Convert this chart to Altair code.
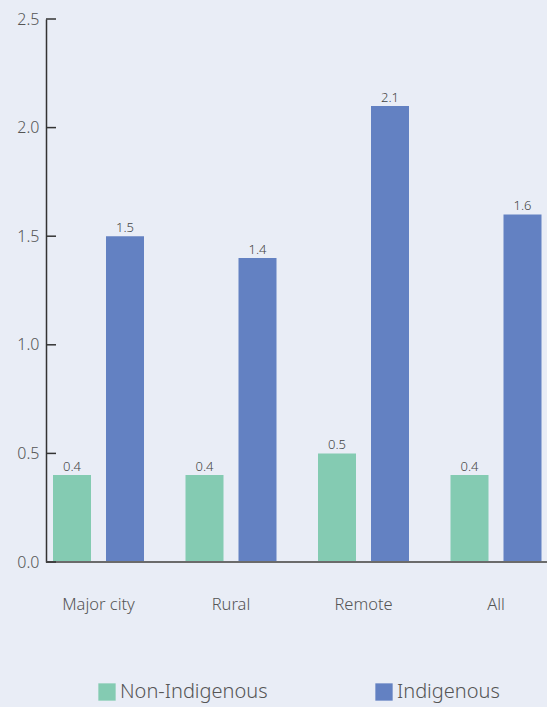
import altair as alt
import pandas as pd

# Rates by area, Non-Indigenous vs Indigenous
regions = ["Major city", "Rural", "Remote", "All"]
groups = ["Non-Indigenous", "Indigenous"]
non_indigenous = [0.4, 0.4, 0.5, 0.4]
indigenous = [1.5, 1.4, 2.1, 1.6]
y_ticks = [0.0, 0.5, 1.0, 1.5, 2.0, 2.5]
colors = ["#84cbb2", "#6381c2"]

rows = []
for r, a, b in zip(regions, non_indigenous, indigenous):
    rows.append({"region": r, "group": groups[0], "value": a})
    rows.append({"region": r, "group": groups[1], "value": b})
df = pd.DataFrame(rows)
ticks_df = pd.DataFrame({"tick": y_ticks})

FONT = "Noto Sans"
WEIGHT = 300
W, H = 501, 543

x_scale = alt.Scale(domain=regions, range=[-13.75, 516.25], paddingInner=0, paddingOuter=0)
off_scale = alt.Scale(domain=groups, paddingInner=0.283, paddingOuter=0.3915)
y_scale = alt.Scale(domain=[0, 2.5], nice=False, zero=True)

x_enc = alt.X(
    "region:N", scale=x_scale, sort=regions, title=None,
    axis=alt.Axis(domain=False, ticks=False, labelAngle=0, labelPadding=34,
                  labelFontSize=16.5, labelColor="#555555", labelFont=FONT,
                  labelFontWeight=WEIGHT),
)
off_enc = alt.XOffset("group:N", scale=off_scale, sort=groups)

bars = alt.Chart(df).mark_bar().encode(
    x=x_enc,
    xOffset=off_enc,
    y=alt.Y("value:Q", scale=y_scale, title=None,
            axis=alt.Axis(values=y_ticks, format=".1f", ticks=False, grid=False,
                          domainColor="#333333", domainWidth=1.5, labelPadding=7,
                          labelFontSize=16, labelColor="#555555", labelFont=FONT,
                          labelFontWeight=WEIGHT)),
    color=alt.Color("group:N", scale=alt.Scale(domain=groups, range=colors),
                    legend=alt.Legend(title=None, orient="none", legendX=51, legendY=663,
                                      direction="horizontal", symbolType="square",
                                      symbolSize=300, symbolStrokeWidth=0,
                                      labelFontSize=20, labelFont=FONT,
                                      labelFontWeight=WEIGHT,
                                      labelColor="#555555", labelOffset=3,
                                      columnPadding=106)),
)

labels = alt.Chart(df).mark_text(baseline="bottom", dy=-1, fontSize=13,
                                 font=FONT, fontWeight=WEIGHT, color="#444444").encode(
    x=x_enc,
    xOffset=off_enc,
    y=alt.Y("value:Q", scale=y_scale),
    text=alt.Text("value:Q", format=".1f"),
)

baseline = alt.Chart(pd.DataFrame({"v": [0]})).mark_rule(
    color="#6b6b6b", strokeWidth=2).encode(
    y=alt.Y("v:Q", scale=y_scale),
    x=alt.value(0), x2=alt.value(W),
)

tick_marks = alt.Chart(ticks_df).mark_rule(color="#333333", strokeWidth=1.5).encode(
    y=alt.Y("tick:Q", scale=y_scale),
    x=alt.value(0), x2=alt.value(10),
)

chart = alt.layer(bars, labels, baseline, tick_marks).properties(
    width=W, height=H,
    autosize=alt.AutoSizeParams(type="none"),
    padding={"left": 46, "top": 19, "right": 0, "bottom": 145},
    background="#e9edf6",
).configure_view(stroke=None)

chart.save("out.html", embed_options={"renderer": "svg", "actions": False})
